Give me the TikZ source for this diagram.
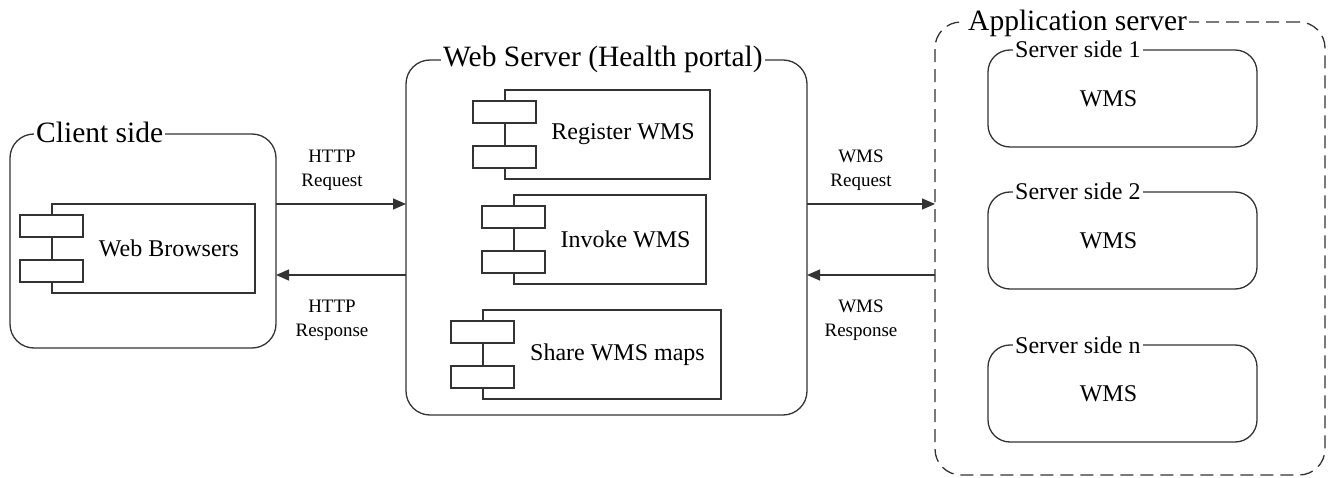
\documentclass[tikz,border=0pt]{standalone}
\usepackage{fontspec}
\setmainfont{Liberation Serif}
\usetikzlibrary{arrows.meta,calc}
\tikzset{
    box/.style={draw=black!80, line width=1.3pt, rounded corners=24pt, inner sep=0pt, outer sep=0pt, anchor=north west},
    comp/.style={draw=black!80, line width=1.3pt, inner sep=0pt, outer sep=0pt, anchor=north west, minimum height=89pt},
    port/.style={comp, fill=white, minimum width=63pt, minimum height=22pt},
    title/.style={fill=white, inner xsep=2pt, inner ysep=1pt, anchor=base west, font=\fontsize{29.5}{32}\selectfont},
    subtitle/.style={title, font=\fontsize{24}{26}\selectfont},
    comptext/.style={font=\fontsize{24}{26}\selectfont, inner sep=0pt},
    lbl/.style={align=center, inner sep=0pt, font=\fontsize{19}{24}\selectfont},
    arr/.style={draw=black!80, line width=1.3pt, -{Triangle[length=13pt,width=11pt]}}
}
\begin{document}
\begin{tikzpicture}[x=1pt,y=-1pt]
    \useasboundingbox (0,0) rectangle (1328,478);
    \node[box, minimum width=266pt, minimum height=214pt] (client) at (10,134) {};
    \node[box, minimum width=401pt, minimum height=355pt] (web) at (406,60) {};
    \node[box, dashed, dash pattern=on 13pt off 7pt, rounded corners=26pt, minimum width=390pt, minimum height=453pt] (app) at (935,22) {};
    \node[title] (client-title) at ([xshift=24pt,yshift=-9pt]client.north west) {Client side};
    \node[title] (web-title) at ([xshift=35pt,yshift=-7pt]web.north west) {Web Server (Health portal)};
    \node[title] (app-title) at ([xshift=31pt,yshift=-9pt]app.north west) {Application server};
    \foreach \n/\x/\y/\w/\t in {br/52/204/203/Web Browsers, reg/505/90/205/Register WMS, inv/514/195/192/Invoke WMS, shr/483/310/238/Share WMS maps}{
        \node[comp, minimum width=\w pt] (\n) at (\x,\y) {};
        \node[port] (\n-a) at ([xshift=-32pt,yshift=-11pt]\n.north west) {};
        \node[port, anchor=south west] (\n-b) at ([xshift=-32pt,yshift=11pt]\n.south west) {};
        \node[comptext] (\n-t) at ($(\n-a.east |- \n.center)!0.5!(\n.east)$) {\t};
    }
    \foreach \n/\y/\t in {s1/50/1, s2/192/2, sn/345/n}{
        \node[box, rounded corners=22pt, minimum width=269pt, minimum height=97pt] (\n) at (988,\y) {};
        \node[subtitle] (\n-title) at ([xshift=25pt,yshift=-8pt]\n.north west) {Server side \t};
        \node[comptext] (\n-wms) at ([xshift=-14pt]\n.center) {WMS};
    }
    \coordinate (req) at (0,204);
    \coordinate (res) at (0,275);
    \draw[arr] (client.east |- req) -- (web.west |- req);
    \draw[arr] (web.west |- res) -- (client.east |- res);
    \draw[arr] (web.east |- req) -- (app.west |- req);
    \draw[arr] (app.west |- res) -- (web.east |- res);
    \node[lbl] (http-req) at (332,170) {HTTP\\Request};
    \node[lbl] (http-res) at (332,320) {HTTP\\Response};
    \node[lbl] (wms-req) at (861,170) {WMS\\Request};
    \node[lbl] (wms-res) at (861,320) {WMS\\Response};
\end{tikzpicture}
\end{document}
